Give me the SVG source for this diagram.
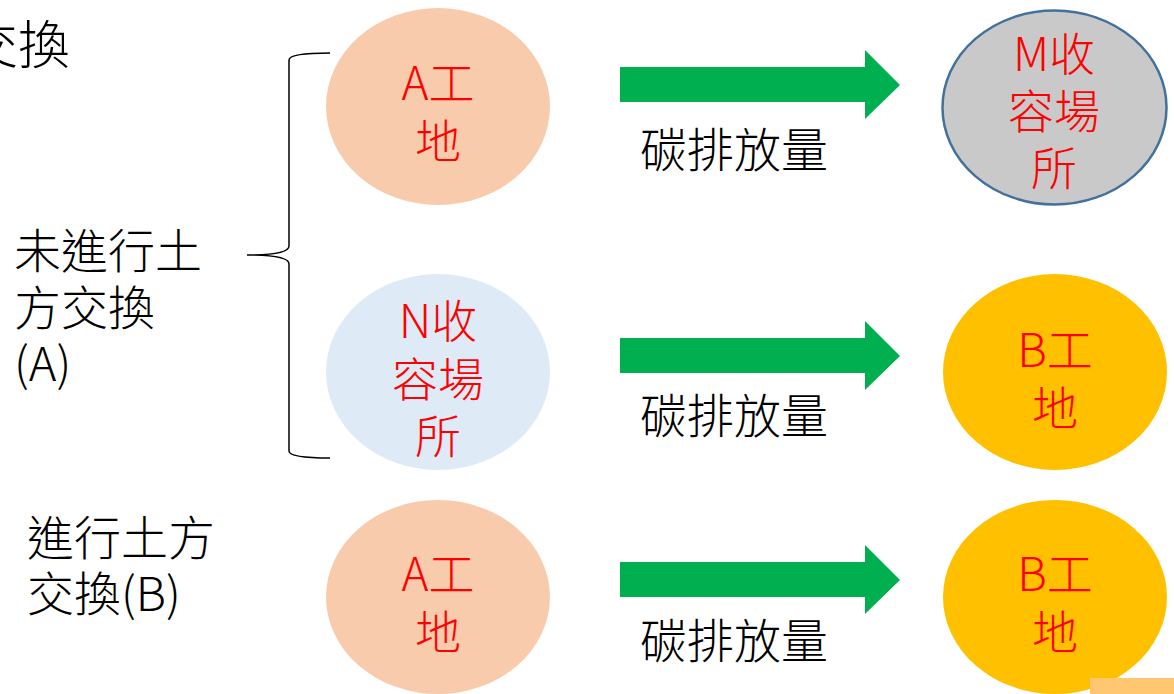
<svg xmlns="http://www.w3.org/2000/svg" width="1174" height="694" viewBox="0 0 1174 694">
<defs>
<style>
text{font-family:"Noto Sans CJK TC","Noto Sans CJK JP",sans-serif;font-weight:300}
.lbl{font-size:47px;fill:#000}
.nt{font-size:46px;fill:#FF0000;text-anchor:middle}
.site{fill:#F8CBAD}
.yard{fill:#DEEBF7}
.gray{fill:#C9C9C9;stroke:#41719C;stroke-width:2.5}
.bsite{fill:#FFC000}
.arrow{fill:#00B050}
</style>
<polygon id="arr" class="arrow" points="0,17 245,17 245,0 280,35 245,69 245,52 0,52"/>
</defs>
<rect width="1174" height="694" fill="#fff"/>
<text class="lbl" x="70" y="64" text-anchor="end" style="font-size:52px">交換</text>
<g id="labelA">
<text class="lbl"><tspan x="14" y="268">未進行土</tspan><tspan x="14" y="325">方交換</tspan><tspan x="14" y="381">(A)</tspan></text>
</g>
<g id="labelB">
<text class="lbl"><tspan x="27" y="555">進行土方</tspan><tspan x="27" y="611">交換(B)</tspan></text>
</g>
<g id="brace">
<path d="M330,53 Q289,53 289,60 L289,246 Q289,255 247,255 Q289,255 289,264 L289,451 Q289,458 330,458" fill="none" stroke="#000" stroke-width="1.5"/>
</g>
<g id="connectors">
<use href="#arr" x="620" y="50"/>
<use href="#arr" x="620" y="321"/>
<use href="#arr" x="620" y="545"/>
<text class="lbl" x="640" y="167">碳排放量</text>
<text class="lbl" x="640" y="433">碳排放量</text>
<text class="lbl" x="640" y="658">碳排放量</text>
</g>
<g id="nodeA1">
<ellipse class="site" cx="438" cy="106.5" rx="112" ry="98.5"/>
<text class="nt"><tspan x="438" y="100">A工</tspan><tspan x="438" y="158">地</tspan></text>
</g>
<g id="nodeM">
<ellipse class="gray" cx="1054.5" cy="107.5" rx="112" ry="97"/>
<text class="nt"><tspan x="1054" y="71">M收</tspan><tspan x="1054" y="128">容場</tspan><tspan x="1054" y="185">所</tspan></text>
</g>
<g id="nodeN">
<ellipse class="yard" cx="438" cy="372" rx="112" ry="98"/>
<text class="nt"><tspan x="438" y="338">N收</tspan><tspan x="438" y="396">容場</tspan><tspan x="438" y="453">所</tspan></text>
</g>
<g id="nodeB1">
<ellipse class="bsite" cx="1055" cy="372" rx="112" ry="98"/>
<text class="nt"><tspan x="1055" y="367">B工</tspan><tspan x="1055" y="425">地</tspan></text>
</g>
<g id="nodeA2">
<ellipse class="site" cx="438" cy="597" rx="112" ry="97"/>
<text class="nt"><tspan x="438" y="591">A工</tspan><tspan x="438" y="649">地</tspan></text>
</g>
<g id="nodeB2">
<ellipse class="bsite" cx="1055" cy="597" rx="112" ry="97"/>
<text class="nt"><tspan x="1055" y="591">B工</tspan><tspan x="1055" y="649">地</tspan></text>
</g>
<rect x="1090" y="678" width="84" height="16" fill="#FFC870"/>
</svg>
